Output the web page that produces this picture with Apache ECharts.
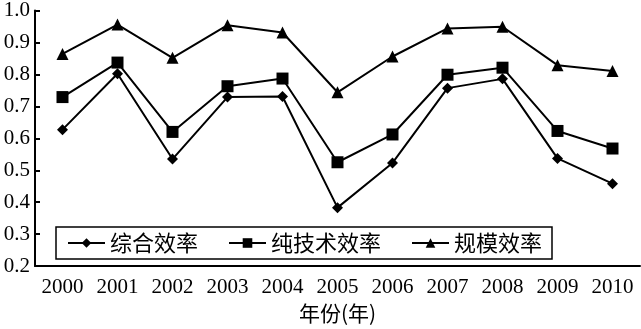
<!DOCTYPE html>
<html><head><meta charset="utf-8">
<script src="https://cdn.jsdelivr.net/npm/echarts@6/dist/echarts.min.js"></script>
<style>html,body{margin:0;padding:0;background:#fff}#c{width:641px;height:329px}</style>
</head><body><div id="c"></div>
<script>
const years = ['2000','2001','2002','2003','2004','2005','2006','2007','2008','2009','2010'];
const zonghe = [0.627,0.802,0.535,0.729,0.731,0.383,0.523,0.757,0.786,0.537,0.458];
const chunjishu = [0.729,0.837,0.620,0.763,0.787,0.525,0.612,0.799,0.821,0.623,0.568];
const guimo = [0.864,0.956,0.852,0.954,0.931,0.744,0.856,0.944,0.949,0.829,0.811];
const seriesNames = ['综合效率','纯技术效率','规模效率'];
const yTicks = ['0.2','0.3','0.4','0.5','0.6','0.7','0.8','0.9','1.0'];
const xName = '年份(年)';

const serif = '"Liberation Serif","DejaVu Serif",serif';
const cjk = '"Noto Sans CJK SC","Liberation Serif",serif';
const chart = echarts.init(document.getElementById('c'));
const mk = (name, data, symbol, size) => ({
  name, type:'line', data, symbol, symbolSize:size,
  lineStyle:{color:'#000',width:2}, itemStyle:{color:'#000'}, animation:false
});
chart.setOption({
  animation:false,
  grid:{left:35,right:1,top:7,bottom:56},
  legend:{
    left:56, top:227, width:508, height:34,
    padding:[5,10,5,11], itemGap:30, itemWidth:37, itemHeight:12,
    borderColor:'#000', borderWidth:1.5, backgroundColor:'#fff',
    textStyle:{fontFamily:cjk,fontSize:22,color:'#000'},
    data:seriesNames
  },
  xAxis:{
    type:'category', data:years, boundaryGap:true,
    name:xName, nameLocation:'middle', nameGap:35,
    nameTextStyle:{fontFamily:cjk,fontSize:21,color:'#000'},
    axisLine:{lineStyle:{color:'#000',width:2}},
    axisTick:{inside:true,length:8,lineStyle:{color:'#000',width:2}},
    axisLabel:{fontFamily:serif,fontSize:21,color:'#000',margin:11}
  },
  yAxis:{
    type:'value', min:0.2, max:1.0, interval:0.1,
    axisLine:{show:true,lineStyle:{color:'#000',width:2}},
    axisTick:{show:true,inside:true,length:5,lineStyle:{color:'#000',width:2}},
    splitLine:{show:false},
    axisLabel:{fontFamily:serif,fontSize:21,color:'#000',margin:5,
      formatter:(v)=>yTicks[Math.round((v-0.2)*10)]}
  },
  series:[
    mk(seriesNames[0], zonghe, 'diamond', 11),
    mk(seriesNames[1], chunjishu, 'rect', 12),
    mk(seriesNames[2], guimo, 'triangle', 12)
  ]
});
</script></body></html>
